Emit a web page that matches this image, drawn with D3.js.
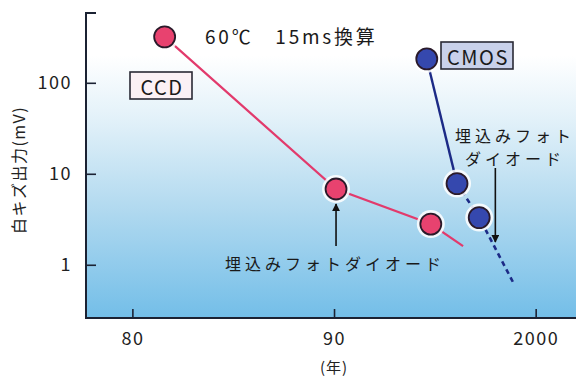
<!DOCTYPE html>
<html><head><meta charset="utf-8">
<script src="https://cdn.jsdelivr.net/npm/d3@7"></script>
<style>html,body{margin:0;padding:0;background:#fff;}svg{display:block;}</style>
</head><body>
<svg id="c" width="576" height="376"></svg>
<script>
// ---- data ----
const ccdYears = [1981.6, 1990.1, 1994.8];
const ccdValues = [320, 6.8, 2.8];
const ccdTrendYear = 1996.4, ccdTrendValue = 1.6;
const cmosYears = [1994.6, 1996.1, 1997.2];
const cmosValues = [183, 7.8, 3.3];
const cmosTrendYear = 1998.9, cmosTrendValue = 0.63;
const xTicks = [1980, 1990, 2000];
const xTickLabels = ["80", "90", "2000"];
const yTicks = [1, 10, 100];
const yTickLabels = ["1", "10", "100"];

const FONT = "'Noto Sans CJK JP', 'Noto Sans', sans-serif";
const svg = d3.select("#c");
const L = 86, R = 576, T = 13, B = 318;
const x = d3.scaleLinear().domain([1977.7, 2002]).range([L, R]);
const y = d3.scaleLog().domain([0.26, 585]).range([B, T]);

// background gradient
const defs = svg.append("defs");
const g = defs.append("linearGradient").attr("id", "bg").attr("x1", 0).attr("y1", 0).attr("x2", 0).attr("y2", 1);
[["0%", "#ffffff"], ["14%", "#ffffff"], ["35%", "#e2f1f9"], ["62%", "#b5dbf0"], ["100%", "#73bee8"]]
  .forEach(([o, c]) => g.append("stop").attr("offset", o).attr("stop-color", c));
svg.append("rect").attr("x", L).attr("y", T).attr("width", R - L).attr("height", B - T).attr("fill", "url(#bg)");

// axes
const axisColor = "#1b2233";
const yAxis = svg.append("g").attr("transform", `translate(${L},0)`)
  .call(d3.axisLeft(y).tickValues(yTicks).tickFormat((d, i) => yTickLabels[i]).tickSize(-10).tickPadding(14));
const xAxis = svg.append("g").attr("transform", `translate(0,${B})`)
  .call(d3.axisBottom(x).tickValues(xTicks).tickFormat((d, i) => xTickLabels[i]).tickSize(-9).tickPadding(14));
[yAxis, xAxis].forEach(a => {
  a.select(".domain").remove();
  a.selectAll("line").attr("stroke", axisColor).attr("stroke-width", 1.6);
  a.selectAll("text").attr("font-family", FONT).attr("font-size", 18).attr("fill", "#222").attr("letter-spacing", 1.5);
});
svg.append("path").attr("d", `M${L + 10},${T}H${L}V${B}H${R}`)
  .attr("fill", "none").attr("stroke", axisColor).attr("stroke-width", 2);

// axis titles
svg.append("text").attr("transform", `translate(18,170) rotate(-90)`)
  .attr("text-anchor", "middle").attr("dominant-baseline", "central")
  .attr("font-family", FONT).attr("font-size", 16).attr("letter-spacing", 1.5).attr("fill", "#222")
  .text("白キズ出力(mV)");
svg.append("text").attr("x", x(1990)).attr("y", 366).attr("text-anchor", "middle").attr("dominant-baseline", "central")
  .attr("font-family", FONT).attr("font-size", 15).attr("letter-spacing", 1).attr("fill", "#222").text("(年)");

// lines
const line = d3.line().x(d => x(d[0])).y(d => y(d[1]));
const ccdPts = ccdYears.map((v, i) => [v, ccdValues[i]]);
const cmosPts = cmosYears.map((v, i) => [v, cmosValues[i]]);
svg.append("path").attr("d", line(ccdPts.concat([[ccdTrendYear, ccdTrendValue]])))
  .attr("fill", "none").attr("stroke", "#e23a6c").attr("stroke-width", 2.2);
svg.append("path").attr("d", line(cmosPts.slice(0, 2)))
  .attr("fill", "none").attr("stroke", "#1c2a86").attr("stroke-width", 2.4);
svg.append("path").attr("d", line(cmosPts.slice(1).concat([[cmosTrendYear, cmosTrendValue]])))
  .attr("fill", "none").attr("stroke", "#1c2a86").attr("stroke-width", 2.6).attr("stroke-dasharray", "5,4");

// circles with halo
function dots(pts, fill) {
  const gg = svg.append("g");
  gg.selectAll("circle.h").data(pts).join("circle").attr("class", "h")
    .attr("cx", d => x(d[0])).attr("cy", d => y(d[1])).attr("r", 14).attr("fill", "#ffffff").attr("opacity", 0.85);
  gg.selectAll("circle.d").data(pts).join("circle").attr("class", "d")
    .attr("cx", d => x(d[0])).attr("cy", d => y(d[1])).attr("r", 10.5)
    .attr("fill", fill).attr("stroke", "#2a1a2a").attr("stroke-width", 1.8);
}
dots(ccdPts, "#e8426f");
dots(cmosPts, "#3548ae");

// labels
function boxLabel(cx, cy, w, h, txt, fill) {
  svg.append("rect").attr("x", cx - w / 2).attr("y", cy - h / 2).attr("width", w).attr("height", h)
    .attr("fill", fill).attr("stroke", "#2a2a35").attr("stroke-width", 1.6);
  svg.append("text").attr("x", cx + 1).attr("y", cy + 1).attr("text-anchor", "middle").attr("dominant-baseline", "central")
    .attr("font-family", FONT).attr("font-size", 20).attr("letter-spacing", 1.5).attr("fill", "#1a1a1a").text(txt);
}
boxLabel(161, 85.5, 62, 27, "CCD", "#fbf1f5");
boxLabel(477, 55.5, 72, 27, "CMOS", "#c9d1ea");

svg.append("text").attr("x", 205).attr("y", 35).attr("dominant-baseline", "central")
  .attr("font-family", FONT).attr("font-size", 19).attr("letter-spacing", 2.8).attr("fill", "#1a1a1a")
  .attr("xml:space", "preserve").text("60℃　15ms換算");

const jpStyle = s => s.attr("font-family", FONT).attr("font-size", 16).attr("letter-spacing", 4)
  .attr("fill", "#1a1a1a").attr("text-anchor", "middle").attr("dominant-baseline", "central");
svg.append("text").attr("x", 515).attr("y", 135).text("埋込みフォト").call(jpStyle);
svg.append("text").attr("x", 515).attr("y", 158).text("ダイオード").call(jpStyle);
svg.append("text").attr("x", 335).attr("y", 263).text("埋込みフォトダイオード").call(jpStyle);

// arrows
defs.append("marker").attr("id", "ah").attr("viewBox", "0 0 10 10").attr("refX", 9).attr("refY", 5)
  .attr("markerWidth", 8).attr("markerHeight", 8).attr("markerUnits", "userSpaceOnUse").attr("orient", "auto")
  .append("path").attr("d", "M0,0L10,5L0,10z").attr("fill", "#111");
const ax1 = x(ccdYears[1]);
svg.append("line").attr("x1", ax1).attr("x2", ax1).attr("y1", 246).attr("y2", 204)
  .attr("stroke", "#111").attr("stroke-width", 1.6).attr("marker-end", "url(#ah)");
const ax2 = x(1998.0);
svg.append("line").attr("x1", ax2).attr("x2", ax2).attr("y1", 168).attr("y2", 242)
  .attr("stroke", "#111").attr("stroke-width", 1.6).attr("marker-end", "url(#ah)");
</script>
</body></html>
